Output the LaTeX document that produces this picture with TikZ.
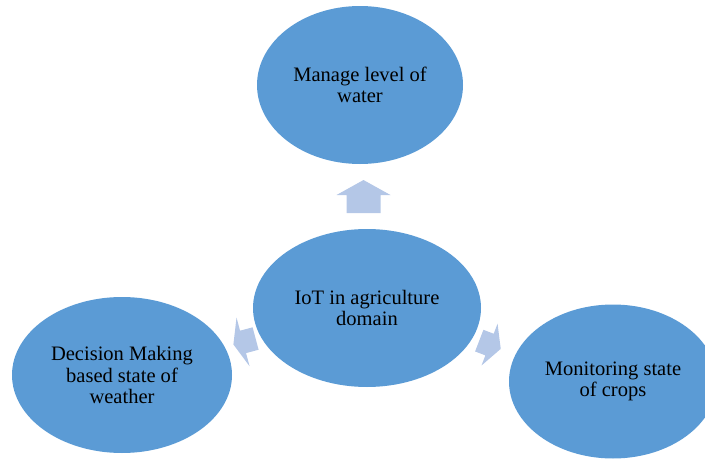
\documentclass[tikz,border=0pt]{standalone}
\usepackage{fontspec}
\setmainfont{Liberation Serif}
\usepackage{tikz}
\usetikzlibrary{shapes.geometric,calc}
\usepackage{xcolor}
\definecolor{Bubble}{HTML}{5B9BD5}
\definecolor{PaleArrow}{HTML}{B4C7E7}

\tikzset{
  bubble/.style={ellipse,fill=Bubble,inner sep=0pt,align=center,
    font=\fontsize{14.6}{15.2}\selectfont,text=black},
  % block arrow along +x: length/head length/head half width/shaft half width
  pics/fatarrow/.style args={#1/#2/#3/#4}{code={
    \fill[PaleArrow] ({#1/2},0) -- ({#1/2-#2},#3) -- ({#1/2-#2},#4)
      -- ({-#1/2},#4) -- ({-#1/2},-#4) -- ({#1/2-#2},-#4)
      -- ({#1/2-#2},-#3) -- cycle;
  }}
}

\begin{document}
\begin{tikzpicture}
    \clip (0,0) rectangle (17.625,11.475);

    \node[bubble,minimum width=5.15cm,minimum height=3.95cm] (water) at (9.0,9.35)
      {Manage level of\\water};
    \node[bubble,minimum width=5.7cm,minimum height=3.95cm] (core) at (9.175,3.775)
      {IoT in agriculture\\domain};
    \node[bubble,minimum width=5.5cm,minimum height=3.9cm] (weather) at (3.05,2.1)
      {Decision Making\\based state of\\weather};
    \node[bubble,minimum width=5.2cm,minimum height=3.85cm] (crops) at (15.325,1.9375)
      {Monitoring state\\of crops};

    \pic[rotate=90] (toWater) at ($(core)!0.5!(water)$) {fatarrow=0.825/0.375/0.675/0.425};
    \pic[rotate=195] (toWeather) at ($(core)!0.5!(weather)$) {fatarrow=0.575/0.25/0.63/0.29};
    \pic[rotate=-21] (toCrops) at ($(core)!0.5!(crops)$) {fatarrow=0.575/0.3/0.56/0.29};
\end{tikzpicture}
\end{document}
